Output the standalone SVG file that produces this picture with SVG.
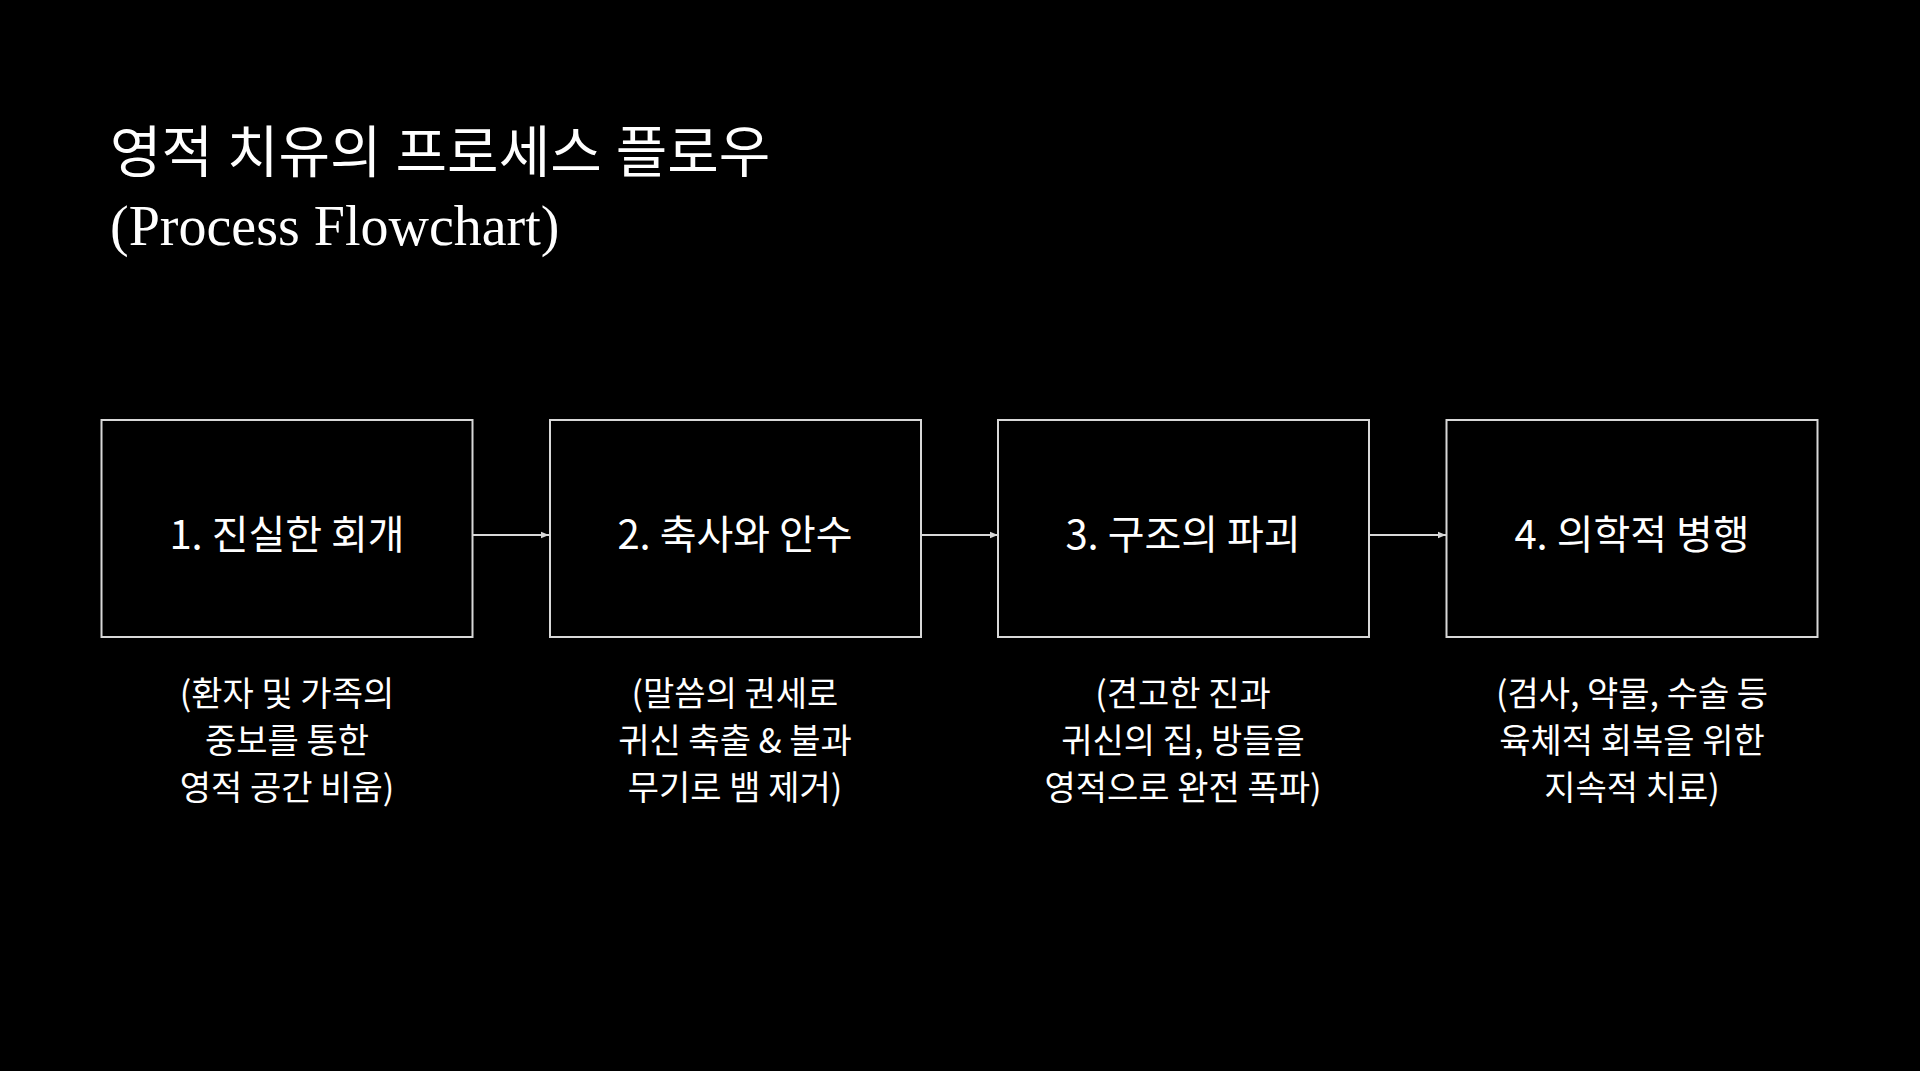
<svg xmlns="http://www.w3.org/2000/svg" width="1920" height="1071" viewBox="0 0 1920 1071">
<style>
.t{font-family:"Liberation Serif","Noto Sans CJK KR",serif;fill:#fff;font-size:56px}
.box{fill:none;stroke:#d8d8d8;stroke-width:2}
.lbl{font-family:"Noto Sans CJK KR","Noto Sans",sans-serif;fill:#fff;font-size:40px;text-anchor:middle}
.sub{font-family:"Noto Sans CJK KR","Noto Sans",sans-serif;fill:#fff;font-size:34px;text-anchor:middle}
.c{stroke:#d8d8d8;stroke-width:2;fill:none;marker-end:url(#a)}
</style>
<defs><marker id="a" viewBox="0 0 10 10" refX="10" refY="5" markerWidth="8" markerHeight="8" orient="auto" markerUnits="userSpaceOnUse"><path d="M0,1 L10,5 L0,9 z" fill="#d8d8d8"/></marker></defs>
<rect width="1920" height="1071" fill="#000"/>
<text class="t" x="110" y="172">영적 치유의 프로세스 플로우</text>
<text class="t" x="110" y="245">(Process Flowchart)</text>
<g id="connectors">
<line class="c" x1="473" y1="535" x2="549" y2="535"/>
<line class="c" x1="921" y1="535" x2="998" y2="535"/>
<line class="c" x1="1369" y1="535" x2="1446" y2="535"/>
</g>
<g id="n1"><rect class="box" x="101.5" y="420" width="371" height="217"/><text class="lbl" x="287" y="549">1. 진실한 회개</text>
<text class="sub" x="287" y="706">(환자 및 가족의</text><text class="sub" x="287" y="753">중보를 통한</text><text class="sub" x="287" y="800">영적 공간 비움)</text></g>
<g id="n2"><rect class="box" x="550" y="420" width="371" height="217"/><text class="lbl" x="735" y="549">2. 축사와 안수</text>
<text class="sub" x="735" y="706">(말씀의 권세로</text><text class="sub" x="735" y="753">귀신 축출 &amp; 불과</text><text class="sub" x="735" y="800">무기로 뱀 제거)</text></g>
<g id="n3"><rect class="box" x="998" y="420" width="371" height="217"/><text class="lbl" x="1183" y="549">3. 구조의 파괴</text>
<text class="sub" x="1183" y="706">(견고한 진과</text><text class="sub" x="1183" y="753">귀신의 집, 방들을</text><text class="sub" x="1183" y="800">영적으로 완전 폭파)</text></g>
<g id="n4"><rect class="box" x="1446.5" y="420" width="371" height="217"/><text class="lbl" x="1632" y="549">4. 의학적 병행</text>
<text class="sub" x="1632" y="706">(검사, 약물, 수술 등</text><text class="sub" x="1632" y="753">육체적 회복을 위한</text><text class="sub" x="1632" y="800">지속적 치료)</text></g>
</svg>
